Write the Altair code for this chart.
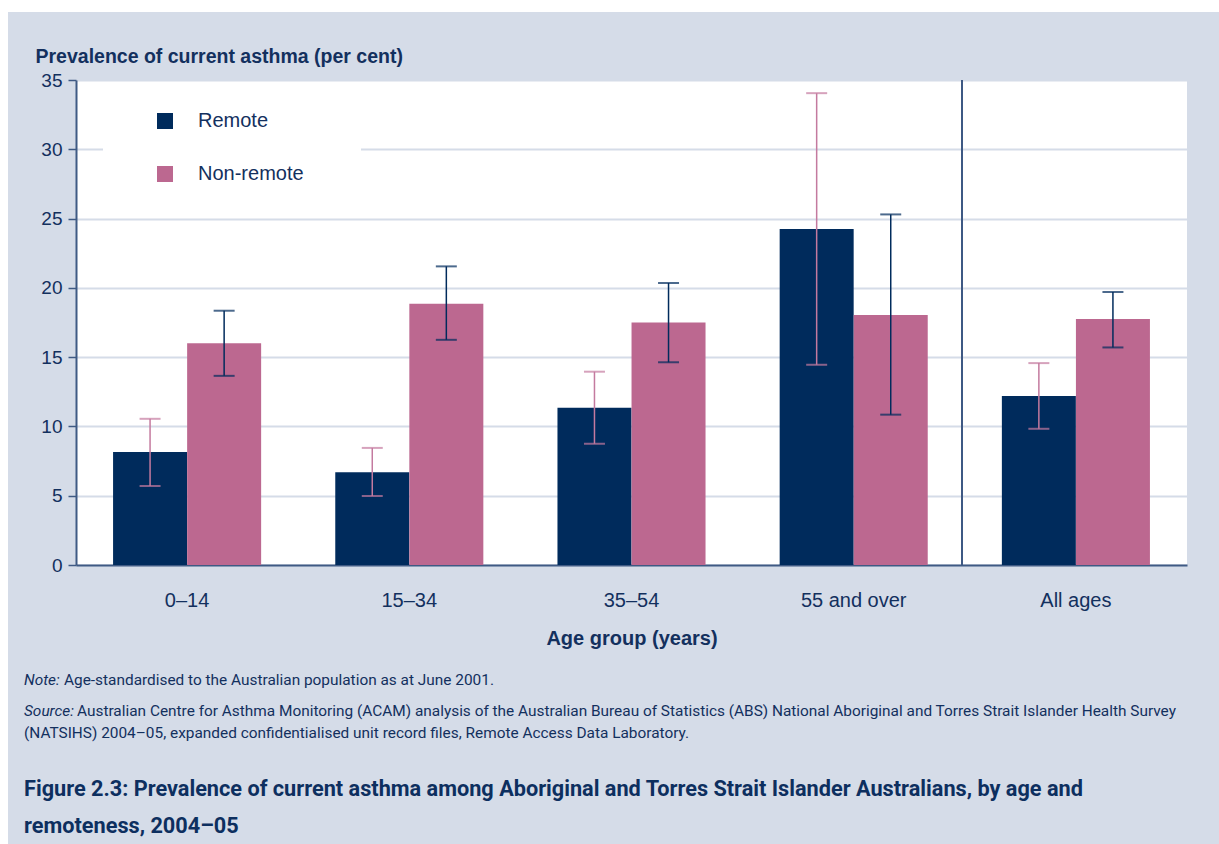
import altair as alt
import pandas as pd

# Age groups and estimates (per cent) with 95% confidence limits
age_groups = ["0–14", "15–34", "35–54", "55 and over", "All ages"]
series_names = ["Remote", "Non-remote"]

remote_value = [8.15, 6.70, 11.35, 24.25, 12.20]
remote_low = [5.70, 4.98, 8.75, 14.45, 9.83]
remote_high = [10.55, 8.45, 13.95, 34.05, 14.57]

nonremote_value = [16.00, 18.85, 17.50, 18.05, 17.75]
nonremote_low = [13.65, 16.25, 14.63, 10.85, 15.70]
nonremote_high = [18.35, 21.55, 20.35, 25.30, 19.70]

y_ticks = [0, 5, 10, 15, 20, 25, 30, 35]

note_label = "Note:"
note_text = "Age-standardised to the Australian population as at June 2001."
source_label = "Source:"
source_line1 = ("Australian Centre for Asthma Monitoring (ACAM) analysis of the Australian Bureau of "
                "Statistics (ABS) National Aboriginal and Torres Strait Islander Health Survey")
source_line2 = ("(NATSIHS) 2004–05, expanded confidentialised unit record files, "
                "Remote Access Data Laboratory.")
caption_line1 = ("Figure 2.3: Prevalence of current asthma among Aboriginal and Torres Strait "
                 "Islander Australians, by age and")
caption_line2 = "remoteness, 2004–05"

NAVY = "#002b5c"
PINK = "#bc6890"
ERR_PINK = "#c47a9f"
TEXT = "#13305e"
PANEL = "#d5dce8"
AXIS = "#3f5a84"
SANS = "Liberation Sans, Arial, sans-serif"
NARROW = "Roboto, sans-serif"

rows = []
for i, g in enumerate(age_groups):
    rows.append({"group": g, "series": "Remote", "value": remote_value[i],
                 "low": remote_low[i], "high": remote_high[i]})
    rows.append({"group": g, "series": "Non-remote", "value": nonremote_value[i],
                 "low": nonremote_low[i], "high": nonremote_high[i]})
df = pd.DataFrame(rows)

W, H = 1111, 485

x_enc = alt.X(
    "group:N",
    sort=age_groups,
    scale=alt.Scale(domain=age_groups, paddingInner=1 / 3, paddingOuter=1 / 6),
    axis=alt.Axis(
        title="Age group (years)", titleFont=SANS, titleFontSize=20, titleFontWeight="bold",
        titleColor=TEXT, titlePadding=18, labelFont=SANS, labelFontSize=20, labelColor=TEXT,
        labelPadding=25, labelAngle=0, ticks=False, domainColor=AXIS, domainWidth=2,
        grid=False,
    ),
)
xoff_enc = alt.XOffset("series:N", sort=series_names,
                       scale=alt.Scale(domain=series_names, paddingInner=0, paddingOuter=0))
y_scale = alt.Scale(domain=[0, 35], nice=False)

bars = alt.Chart(df).mark_bar(size=74).encode(
    x=x_enc,
    xOffset=xoff_enc,
    y=alt.Y(
        "value:Q", scale=y_scale,
        axis=alt.Axis(
            values=y_ticks, title="Prevalence of current asthma (per cent)", titleAngle=0,
            titleAlign="left", titleBaseline="alphabetic", titleX=-41, titleY=-18,
            titleFont=SANS, titleFontSize=19.5, titleFontWeight="bold", titleColor=TEXT,
            labelFont=SANS, labelFontSize=19, labelColor=TEXT, labelPadding=6,
            tickSize=8, tickColor=AXIS, tickWidth=1.5, domainColor=AXIS, domainWidth=2,
            gridColor=PANEL, gridWidth=2,
        ),
    ),
    color=alt.Color(
        "series:N", sort=series_names,
        scale=alt.Scale(domain=series_names, range=[NAVY, PINK]),
        legend=alt.Legend(
            title=None, orient="none", legendX=27, legendY=19, direction="vertical",
            symbolType="square", symbolSize=256, symbolStrokeWidth=0, symbolOffset=40,
            labelFont=SANS, labelFontSize=20, labelColor=TEXT, labelOffset=23,
            rowPadding=33, padding=12, fillColor="white", labelLimit=400,
            # blank (non-whitespace) padding widens the white legend box to the right
            labelExpr="datum.label + '" + "\u2800" * 3 + "'",
        ),
    ),
)

layers = [bars]
# Error bars: pink on the remote bars, navy on the non-remote bars
for name, col in [("Remote", ERR_PINK), ("Non-remote", NAVY)]:
    base = alt.Chart(df).transform_filter(alt.datum.series == name)
    layers.append(base.mark_rule(color=col, strokeWidth=1.5).encode(
        x=alt.X("group:N", sort=age_groups), xOffset=xoff_enc,
        y=alt.Y("low:Q", scale=y_scale), y2="high:Q"))
    for fld in ["low", "high"]:
        layers.append(base.mark_tick(color=col, size=21, thickness=2, orient="horizontal").encode(
            x=alt.X("group:N", sort=age_groups), xOffset=xoff_enc,
            y=alt.Y(f"{fld}:Q", scale=y_scale)))

# Divider between the age-specific groups and the all-ages group
divider = alt.Chart(df).mark_rule(color=AXIS, strokeWidth=1.5).encode(
    x=alt.value(886), y=alt.value(0), y2=alt.value(H))
layers.append(divider)


def text_line(s, x, y, size, font=NARROW, weight="normal", style="normal", color=TEXT):
    return alt.Chart(pd.DataFrame({"t": [s]})).mark_text(
        align="left", baseline="alphabetic", font=font, fontSize=size, fontWeight=weight,
        fontStyle=style, color=color,
    ).encode(text="t:N", x=alt.value(x), y=alt.value(y))


layers += [
    text_line(note_label, -52, 605, 15.4, style="italic"),
    text_line(note_text, -12, 605, 15.4),
    text_line(source_label, -52, 636, 15.4, style="italic"),
    text_line(source_line1, 1, 636, 15.4),
    text_line(source_line2, -52, 658, 15.4),
    text_line(caption_line1, -52, 716, 21.7, weight="bold", color="#0d2f5f"),
    text_line(caption_line2, -52, 753, 21.7, weight="bold", color="#0d2f5f"),
]

# White margins along the top and left edges of the figure panel
margins = [
    alt.Chart(pd.DataFrame({"k": [0]})).mark_rect(color="white").encode(
        x=alt.value(-76), x2=alt.value(W + 32), y=alt.value(-80), y2=alt.value(-68)),
    alt.Chart(pd.DataFrame({"k": [0]})).mark_rect(color="white").encode(
        x=alt.value(-76), x2=alt.value(-68), y=alt.value(-80), y2=alt.value(H + 279)),
]

chart = alt.layer(*margins, *layers).properties(
    width=W, height=H,
    background=PANEL,
    padding={"left": 76, "top": 80, "right": 32, "bottom": 279},
    autosize=alt.AutoSizeParams(type="none"),
).configure_view(fill="white", stroke=None)

chart.save("out.html", embed_options={"renderer": "svg", "actions": False})
